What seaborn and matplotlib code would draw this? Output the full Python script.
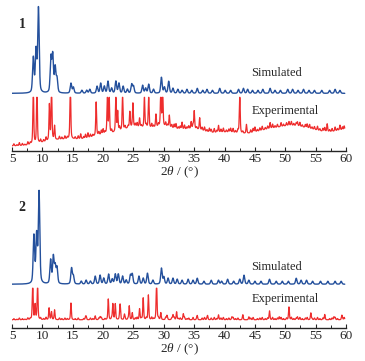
import numpy as np
import pandas as pd
import seaborn as sns
import matplotlib
matplotlib.use("Agg")
from matplotlib import pyplot as plt
from matplotlib.ticker import MultipleLocator

# ---------------- data ----------------
# peak positions (2theta, deg) and heights (arbitrary units)

# compound 1, simulated
sim1_pos = [8.5, 8.95, 9.35, 11.4, 11.7, 12.1, 12.4, 14.7, 15.1, 16.5, 17.3, 17.8,
            19.0, 19.6, 20.2, 20.8, 21.4, 22.1, 22.6, 23.3, 24.0, 24.7, 25.0, 26.5,
            27.0, 27.5, 28.3, 29.6, 30.1, 30.8, 31.5, 32.3, 33.0, 33.8, 34.6, 35.5,
            36.4, 37.1, 38.0, 39.2, 40.1, 41.0, 42.3, 43.1, 43.8, 44.6, 45.5, 46.3,
            47.5, 48.3, 49.2, 50.4, 51.2, 52.1, 53.0, 53.9, 54.8, 56.0, 57.3, 58.2, 59.0]
sim1_int = [35, 42, 85, 35, 37, 25, 14, 10, 6, 3, 3, 4,
            7, 10, 7, 12, 5, 12, 10, 7, 4, 9, 7, 8,
            5, 9, 4, 16, 6, 12, 5, 4, 3, 4, 3, 5,
            3, 4, 3, 5, 3, 3, 4, 5, 4, 3, 3, 4,
            5, 3, 3, 4, 4, 3, 4, 3, 3, 3, 3, 4, 3]

# compound 1, experimental
exp1_pos = [8.5, 9.1, 11.15, 11.5, 12.0, 14.6, 16.3, 17.5, 18.85, 20.0, 20.7, 21.0,
            22.1, 22.4, 23.2, 24.4, 24.9, 26.0, 26.8, 27.5, 28.7, 29.5, 29.8, 30.9,
            32.0, 33.0, 34.5, 35.0, 35.9, 37.5, 39.0, 41.0, 42.5, 43.6, 45.0, 47.5,
            50.6, 52.0, 54.0, 56.9, 59.0]
exp1_int = [60, 60, 36, 60, 14, 60, 5, 5, 34, 5, 38, 36,
            38, 20, 36, 16, 24, 9, 32, 34, 13, 40, 40, 12,
            5, 7, 7, 18, 12, 4, 7, 4, 42, 9, 5, 6,
            4, 4, 4, 8, 5]
exp1_clip = 54

# compound 1 amorphous background humps (center, height)
bg1_pos = [11.5, 15, 20, 25, 30, 35, 40, 43.5, 47, 51, 55, 60]
bg1_int = [4, 5, 10, 17, 17, 15, 11, 6, 12, 16, 12, 15]
bg1_base = 5

# compound 2, simulated
sim2_pos = [8.6, 9.05, 9.45, 11.35, 11.8, 12.1, 12.4, 14.8, 15.1, 16.4, 17.2, 17.9,
            18.7, 19.5, 20.1, 20.9, 21.5, 22.0, 22.5, 23.2, 23.8, 24.5, 24.8, 25.9,
            26.6, 27.3, 28.2, 29.6, 30.0, 30.7, 31.5, 32.2, 33.0, 34.0, 34.8, 35.5,
            36.6, 37.8, 39.0, 39.5, 40.5, 41.5, 42.5, 43.2, 44.0, 45.0, 46.0, 47.4,
            48.5, 49.5, 50.5, 51.8, 52.6, 53.5, 54.5, 55.8, 57.0, 58.2, 59.2]
sim2_int = [48, 48, 92, 24, 27, 17, 16, 16, 8, 3, 4, 3,
            8, 9, 6, 10, 5, 10, 10, 8, 4, 9, 10, 8,
            6, 11, 4, 16, 7, 6, 6, 5, 4, 5, 4, 6,
            3, 4, 4, 3, 5, 3, 5, 9, 4, 3, 3, 5,
            3, 3, 3, 6, 4, 4, 3, 3, 3, 3, 3]

# compound 2, experimental
exp2_pos = [8.4, 8.8, 9.2, 11.1, 11.5, 12.0, 14.7, 17.2, 18.7, 19.5, 20.85, 21.6,
            22.0, 22.8, 23.5, 24.3, 24.8, 26.0, 26.6, 27.45, 28.8, 29.5, 30.5, 31.5,
            32.1, 33.2, 35.5, 37.2, 39.0, 41.2, 43.0, 44.0, 47.4, 49.0, 50.6, 52.0,
            54.2, 56.5, 58.0, 59.3]
exp2_int = [40, 15, 40, 12, 8, 10, 17, 3, 4, 3, 21, 16,
            16, 15, 5, 14, 7, 11, 22, 25, 40, 7, 4, 5,
            8, 6, 4, 4, 5, 3, 4, 3, 9, 3, 13, 3,
            7, 3, 3, 4]
exp2_clip = 40
exp2_base = 8

# fine counting-noise wiggles of the measured traces (position, height)
wig_pos = [5.3, 5.8, 6.2, 6.7, 7.1, 7.6, 8.0, 9.7, 10.2, 10.6, 12.8, 13.2, 13.7, 14.1,
           15.4, 15.9, 16.8, 17.1, 17.9, 18.3, 19.3, 19.7, 20.3, 21.4, 22.7, 23.6, 24.1,
           25.3, 25.6, 26.3, 27.1, 28.0, 28.3, 29.1, 30.3, 30.6, 31.3, 31.7, 32.4, 32.7,
           33.4, 33.8, 34.1, 34.8, 35.4, 36.3, 36.7, 37.1, 37.8, 38.3, 38.7, 39.4, 39.8,
           40.3, 40.7, 41.4, 41.8, 42.2, 43.0, 44.3, 44.7, 45.4, 45.8, 46.2, 46.7, 47.1,
           47.9, 48.3, 48.7, 49.3, 49.7, 50.2, 51.0, 51.4, 51.8, 52.4, 52.8, 53.3, 53.6,
           54.4, 54.8, 55.3, 55.7, 56.2, 56.5, 57.3, 57.7, 58.2, 58.6, 59.4, 59.7]
wig_int = [2, 1, 3, 2, 1, 3, 2, 3, 2, 4, 3, 2, 3, 2,
           2, 3, 2, 4, 3, 2, 3, 4, 2, 3, 4, 3, 2,
           3, 4, 2, 3, 4, 2, 3, 4, 2, 3, 4, 2, 3,
           4, 2, 3, 4, 2, 3, 4, 2, 3, 4, 2, 3, 4,
           2, 3, 4, 2, 3, 2, 3, 4, 2, 3, 4, 2, 3,
           4, 2, 3, 4, 2, 3, 4, 2, 3, 4, 2, 3, 4,
           2, 3, 4, 2, 3, 4, 2, 3, 4, 2, 3, 4]

# vertical placement of the simulated traces (same units as heights)
sim1_offset, sim2_offset = 58, 44

BLUE = "#24509c"
RED = "#ee2d2d"


def profile(x, pos, height, width, eta=0.4):
    """Sum of pseudo-Voigt peaks at the listed positions."""
    y = np.zeros_like(x)
    for p, h in zip(pos, height):
        g = np.exp(-0.5 * ((x - p) / width) ** 2)
        lor = 1 / (1 + ((x - p) / (1.2 * width)) ** 2)
        y += h * ((1 - eta) * g + eta * lor)
    return y


tt = np.arange(5.0, 59.8, 0.01)
wig = profile(tt, wig_pos, wig_int, 0.07)

sim1 = sim1_offset + profile(tt, sim1_pos, sim1_int, 0.12)
bg1 = bg1_base + profile(tt, bg1_pos, bg1_int, 2.2, eta=0.0)
exp1 = np.minimum(bg1 + profile(tt, exp1_pos, exp1_int, 0.07, eta=0.5) + wig, exp1_clip)

sim2 = sim2_offset + profile(tt, sim2_pos, sim2_int, 0.12)
exp2 = np.minimum(exp2_base + profile(tt, exp2_pos, exp2_int, 0.07, eta=0.5) + 0.6 * wig,
                  exp2_clip)

# label, data, y-top, y of "Simulated", y of "Experimental", y of panel number
panels = [
    ("1", pd.DataFrame({"tt": tt, "sim": sim1, "exp": exp1}), 150, 79, 40, 127),
    ("2", pd.DataFrame({"tt": tt, "sim": sim2, "exp": exp2}), 146, 61, 29, 122),
]

sns.set_style("ticks")
plt.rcParams["font.family"] = ["Liberation Serif", "DejaVu Serif"]
plt.rcParams["mathtext.fontset"] = "custom"
plt.rcParams["mathtext.rm"] = "Liberation Serif"
plt.rcParams["mathtext.it"] = "Liberation Serif:italic"

fig = plt.figure(figsize=(3.65, 3.61), dpi=100)
boxes = [[0.033, 0.582, 0.915, 0.412], [0.033, 0.092, 0.915, 0.400]]

for (label, df, ytop, y_sim, y_exp, y_lab), box in zip(panels, boxes):
    ax = fig.add_axes(box)
    sns.lineplot(data=df, x="tt", y="sim", ax=ax, color=BLUE, lw=1.0)
    sns.lineplot(data=df, x="tt", y="exp", ax=ax, color=RED, lw=0.9)
    ax.set_xlim(5, 60)
    ax.set_ylim(0, ytop)
    for s in ("left", "top", "right"):
        ax.spines[s].set_visible(False)
    ax.spines["bottom"].set_linewidth(1.0)
    ax.set_yticks([])
    ax.set_ylabel("")
    ax.xaxis.set_major_locator(MultipleLocator(5))
    ax.xaxis.set_minor_locator(MultipleLocator(2.5))
    ax.tick_params(axis="x", which="major", direction="in", length=3, width=0.8,
                   labelsize=9.5, pad=1.5)
    ax.tick_params(axis="x", which="minor", direction="in", length=2, width=0.7)
    ax.set_xlabel(r"$\mathit{2\theta}$ / (°)", fontsize=9.5, labelpad=0)
    ax.text(48.6, y_sim, "Simulated", fontsize=9, ha="center", va="center")
    ax.text(50.0, y_exp, "Experimental", fontsize=9, ha="center", va="center")
    ax.text(6.65, y_lab, label, fontsize=10, fontweight="bold", ha="center", va="center")

fig.savefig("out.png", dpi=100)
